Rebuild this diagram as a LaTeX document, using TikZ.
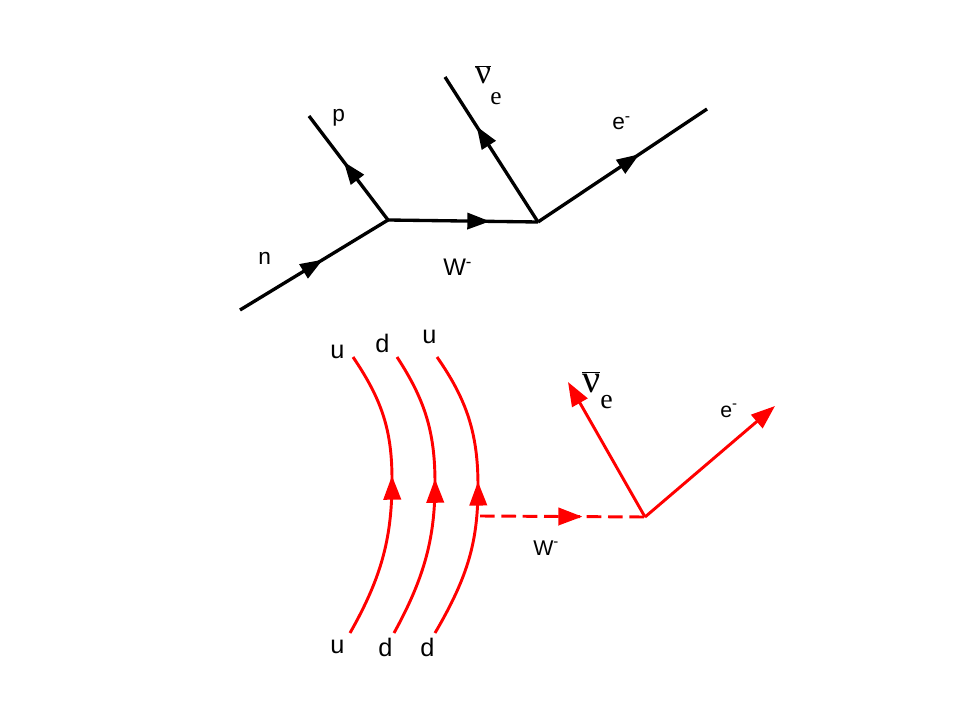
\documentclass[tikz,border=0pt]{standalone}
\usepackage{fontspec}
\setmainfont{Liberation Sans}
\newfontfamily\seriffont{Liberation Serif}
\usetikzlibrary{arrows.meta,decorations.markings}
\begin{document}
\begin{tikzpicture}[x={(0.75pt,0)},y={(0,-0.75pt)},
  fline/.style={line width=2.5pt,black},
  qline/.style={line width=2.2pt,red},
  midarrow/.style={postaction={decorate},decoration={markings,mark=at position #1 with {\arrow{Triangle[length=17pt,width=12pt]}}}},
  qarrow/.style={postaction={decorate},decoration={markings,mark=at position #1 with {\arrow{Triangle[length=18pt,width=13pt]}}}},
  lbl/.style={inner sep=0pt,anchor=base west,font=\fontsize{17}{20}\selectfont},
  qlbl/.style={inner sep=0pt,anchor=base west,font=\fontsize{19}{22}\selectfont}]
\useasboundingbox (0,0) rectangle (960,720);
% ---------- top diagram ----------
\coordinate (nin) at (240,310);
\coordinate (v1) at (388,220);
\coordinate (pout) at (309,116);
\coordinate (v2) at (538,222);
\coordinate (nuout) at (445,77);
\coordinate (eout) at (707,109);
\draw[fline,midarrow=0.56] (nin) -- (v1);
\draw[fline,midarrow=0.56] (v1) -- (pout);
\draw[fline,midarrow=0.68] (v1) -- (v2);
\draw[fline,midarrow=0.66] (v2) -- (nuout);
\draw[fline,midarrow=0.6] (v2) -- (eout);
\node[lbl] (lp) at (332,122) {p};
\node[lbl] (ln) at (258,265) {n};
\node[lbl,font=\fontsize{18}{20}\selectfont] (lw) at (443,276) {W\textsuperscript{-}};
\node[lbl] (le) at (612,130) {e\textsuperscript{-}};
\node[inner sep=0pt,anchor=base west,font=\seriffont\fontsize{26}{28}\selectfont] (lnu) at (475,84) {$\overline{\hbox{ν}}$};
\node[inner sep=0pt,anchor=base west,font=\seriffont\fontsize{19}{22}\selectfont] (lnue) at (490,105) {e};
% ---------- bottom diagram ----------
\coordinate (q1b) at (350,633); \coordinate (q1m) at (392,480); \coordinate (q1t) at (353,357);
\coordinate (q2b) at (394,633); \coordinate (q2m) at (435,483); \coordinate (q2t) at (397,357);
\coordinate (q3b) at (435,633); \coordinate (q3m) at (478,486); \coordinate (q3t) at (437,357);
\draw[qline,qarrow=0.565] (q1b) .. controls (383,575) and (392,535) .. (q1m) .. controls (392,430) and (382,400) .. (q1t);
\draw[qline,qarrow=0.555] (q2b) .. controls (426,575) and (435,535) .. (q2m) .. controls (435,432) and (425,400) .. (q2t);
\draw[qline,qarrow=0.545] (q3b) .. controls (469,575) and (478,540) .. (q3m) .. controls (478,434) and (467,400) .. (q3t);
\coordinate (w0) at (480,516);
\coordinate (v3) at (645,517);
\coordinate (nuend) at (568,382);
\coordinate (eend) at (775,406);
\draw[qline,dash pattern=on 11pt off 5pt,qarrow=0.62] (w0) -- (v3);
\draw[qline,-{Triangle[length=18pt,width=13pt]}] (v3) -- (nuend);
\draw[qline,-{Triangle[length=18pt,width=13pt]}] (v3) -- (eend);
\node[qlbl] (u1) at (330,358) {u};
\node[qlbl] (d1) at (375,352) {d};
\node[qlbl] (u2) at (422,343) {u};
\node[qlbl] (u3) at (330,653) {u};
\node[qlbl] (d2) at (378,656) {d};
\node[qlbl] (d3) at (420,656) {d};
\node[lbl,font=\fontsize{16}{18}\selectfont] (lw2) at (533,555) {W\textsuperscript{-}};
\node[lbl,font=\fontsize{16}{18}\selectfont] (le2) at (720,417) {e\textsuperscript{-}};
\node[inner sep=0pt,anchor=base west,font=\seriffont\fontsize{30}{32}\selectfont] (lnu2) at (582,392) {$\overline{\hbox{ν}}$};
\node[inner sep=0pt,anchor=base west,font=\seriffont\fontsize{21}{24}\selectfont] (lnue2) at (600,408) {e};
\end{tikzpicture}
\end{document}
